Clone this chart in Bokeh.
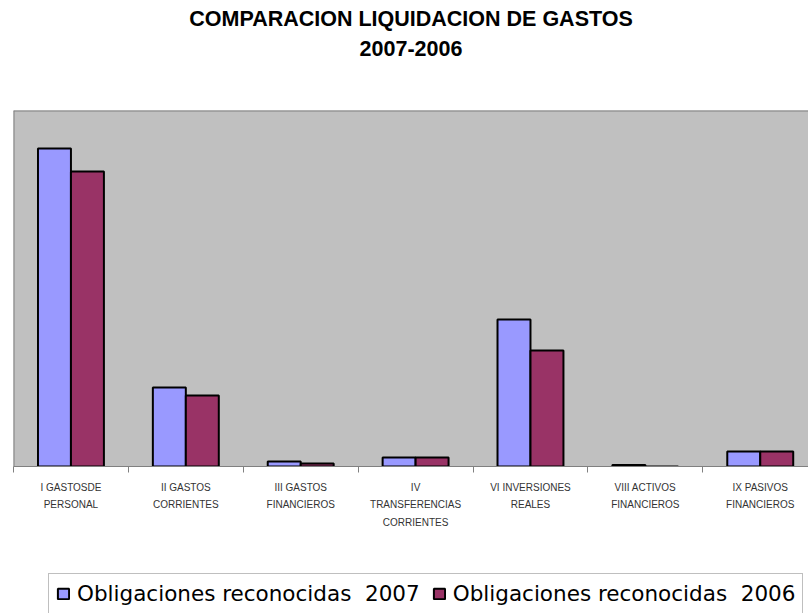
from bokeh.plotting import figure
from bokeh.layouts import column
from bokeh.models import ColumnDataSource, Range1d, LinearAxis, FixedTicker, Legend, LegendItem, Title, Span
from bokeh.embed import file_html
from bokeh.resources import INLINE

categories = ["I GASTOSDE\nPERSONAL", "II GASTOS\nCORRIENTES", "III GASTOS\nFINANCIEROS",
              "IV\nTRANSFERENCIAS\nCORRIENTES", "VI INVERSIONES\nREALES",
              "VIII ACTIVOS\nFINANCIEROS", "IX PASIVOS\nFINANCIEROS"]
obligaciones_2007 = [318, 79, 5, 9, 147, 1.5, 15]
obligaciones_2006 = [295, 71, 3, 9, 116, 0, 15]
series_names = ["Obligaciones reconocidas  2007", "Obligaciones reconocidas  2006"]
title_lines = ["COMPARACION LIQUIDACION DE GASTOS", "2007-2006"]
colors = ["#9999FF", "#993366"]

centers = [i + 0.5 for i in range(len(categories))]
bw = 0.287
src = ColumnDataSource(dict(
    x07=[c - bw / 2 for c in centers],
    x06=[c + bw / 2 for c in centers],
    v07=obligaciones_2007,
    v06=obligaciones_2006,
))

p = figure(width=808, height=567, x_range=Range1d(0, 6.92), y_range=Range1d(0, 356),
           x_axis_type=None, y_axis_type=None, toolbar_location=None, output_backend="svg",
           min_border_left=13, min_border_right=0, min_border_top=110, min_border_bottom=101,
           background_fill_color="#C0C0C0", border_fill_color="white", outline_line_color=None)

p.vbar(x="x07", top="v07", width=bw, source=src, fill_color=colors[0],
       line_color="black", line_width=2)
p.vbar(x="x06", top="v06", width=bw, source=src, fill_color=colors[1],
       line_color="black", line_width=2)

p.add_layout(Span(location=0, dimension="height", line_color="#808080", line_width=2))
p.add_layout(Span(location=356, dimension="width", line_color="#808080", line_width=2))

xaxis = LinearAxis(
    ticker=FixedTicker(ticks=centers, minor_ticks=list(range(len(categories) + 1))),
    major_label_overrides={c: lab for c, lab in zip(centers, categories)},
    major_tick_line_color=None, minor_tick_out=6, minor_tick_in=0,
    minor_tick_line_color="#808080", axis_line_color="#808080", axis_line_width=1,
    major_label_text_font="Liberation Sans", major_label_text_font_size="10px",
    major_label_text_color="#333333", major_label_text_line_height=1.6,
    major_label_standoff=9,
)
p.add_layout(xaxis, "below")

spacer = Title(text=" ", text_font_size="43px", standoff=0)
t2 = Title(text=title_lines[1], align="center", text_font_size="21.5px",
           text_font="Liberation Sans", text_font_style="bold", text_color="black")
t1 = Title(text=title_lines[0], align="center", text_font_size="21.5px",
           text_font="Liberation Sans", text_font_style="bold", text_color="black",
           standoff=5)
p.add_layout(spacer, "above")
p.add_layout(t2, "above")
p.add_layout(t1, "above")

# legend strip below the chart
lg = figure(width=808, height=46, x_range=Range1d(0, 1), y_range=Range1d(0, 1),
            x_axis_type=None, y_axis_type=None, toolbar_location=None, output_backend="svg",
            min_border=0, outline_line_color=None, background_fill_color="white")
dummy = ColumnDataSource(dict(x=[float("nan")], top=[float("nan")]))
g1 = lg.vbar(x="x", top="top", width=0.1, source=dummy, fill_color=colors[0],
             line_color="black", line_width=2)
g2 = lg.vbar(x="x", top="top", width=0.1, source=dummy, fill_color=colors[1],
             line_color="black", line_width=2)
legend = Legend(items=[LegendItem(label=series_names[0], renderers=[g1]),
                       LegendItem(label=series_names[1], renderers=[g2])],
                orientation="horizontal", location=(35, -1),
                border_line_color="#808080", border_line_width=1,
                background_fill_color="white", background_fill_alpha=1,
                label_text_font="DejaVu Sans", label_text_font_size="21.5px",
                label_text_color="black", glyph_width=14, glyph_height=13,
                label_height=20, label_standoff=7, spacing=12, padding=7, margin=0)
lg.add_layout(legend, "center")

layout = column(p, lg, spacing=0)
open("out.html", "w").write(file_html(layout, INLINE))
